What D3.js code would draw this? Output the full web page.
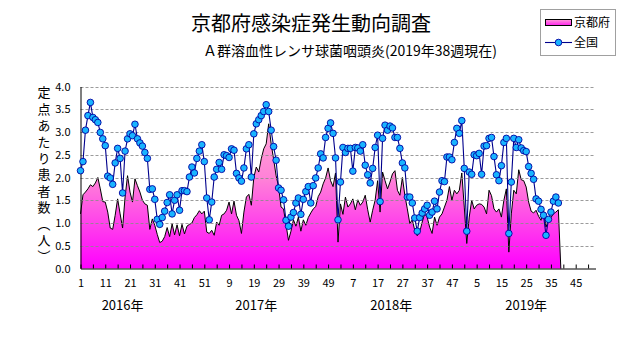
<!DOCTYPE html>
<html><head><meta charset="utf-8">
<script src="https://cdn.jsdelivr.net/npm/d3@7"></script>
<style>
body{margin:0;background:#fff}
svg{display:block}
text{font-family:"Noto Sans CJK JP","Noto Sans",sans-serif;fill:#000}
</style>
</head><body>
<svg id="c" width="631" height="347"></svg>
<script>
// ---- data (weekly values per sentinel site) ----
const kyoto2016 = [1.20,1.62,1.68,1.75,1.84,1.80,1.88,2.00,1.75,1.47,1.46,1.24,0.89,0.86,1.17,1.53,1.20,0.89,1.57,2.04,1.68,1.46,1.97,1.82,1.68,1.50,1.42,1.39,0.86,1.09,0.95,0.75,0.57,0.60,0.70,0.90,0.70,0.98,0.74,0.96,0.72,0.97,0.76,0.93,0.97,1.00,1.12,1.18,1.27,1.20,1.26,0.80];
const kyoto2017 = [0.77,0.84,0.73,1.02,0.95,1.17,1.20,1.28,1.46,1.20,1.48,1.17,1.05,0.77,1.24,1.57,1.63,1.39,2.00,2.23,2.12,2.41,2.63,2.74,3.18,2.74,2.40,2.04,1.80,1.35,1.31,0.97,0.62,0.82,1.07,0.93,1.13,0.82,1.07,0.95,1.12,1.22,1.31,1.36,1.58,1.68,1.86,1.99,2.21,1.93,1.80,2.10];
const kyoto2018 = [0.58,1.42,1.19,1.57,1.35,1.42,1.53,1.29,1.51,1.39,1.46,1.61,1.29,1.02,1.28,1.50,1.93,1.24,2.12,1.93,1.75,1.90,2.08,2.15,1.72,1.61,2.00,1.61,1.31,0.99,1.07,0.84,0.72,0.80,1.02,1.20,1.13,0.91,0.77,1.13,0.95,1.13,1.20,1.35,1.50,1.80,1.50,1.72,1.64,1.72,2.10,1.35];
const kyoto2019 = [0.55,1.13,1.50,1.31,1.39,1.42,1.41,1.35,1.20,1.72,1.60,1.31,1.24,1.31,1.13,1.50,1.75,0.36,1.20,1.72,1.64,2.17,1.95,1.93,1.79,1.46,1.26,1.22,1.28,1.15,1.06,1.29,0.91,1.06,1.12,1.20,1.24,1.29,0];

const zenkoku2016 = [2.15,2.35,3.04,3.36,3.65,3.32,3.27,3.21,2.99,2.85,2.70,2.03,1.99,1.85,2.32,2.64,2.42,1.66,2.58,2.85,2.96,2.92,3.17,2.85,2.76,2.69,2.55,2.42,1.74,1.75,1.52,1.08,0.97,1.12,1.26,1.45,1.62,1.20,1.50,1.62,1.28,1.71,1.71,1.69,2.01,2.23,2.10,2.42,2.58,2.72,2.35,1.55];
const zenkoku2017 = [1.07,1.46,2.01,2.18,2.33,2.18,2.50,2.48,2.44,2.63,2.60,2.09,1.99,1.92,2.21,2.63,2.72,2.01,2.96,3.18,3.27,3.36,3.45,3.60,3.45,3.04,2.68,2.38,1.77,1.72,1.51,1.06,0.93,1.13,1.23,1.44,1.55,1.19,1.52,1.69,1.80,1.44,1.82,1.99,2.21,2.52,2.43,2.88,3.08,3.20,2.97,2.43];
const zenkoku2018 = [1.07,1.90,2.66,2.55,2.64,2.64,2.14,2.66,2.65,2.58,2.72,2.27,2.06,1.88,2.20,2.66,2.93,1.47,2.86,3.15,3.04,3.13,3.09,2.88,2.88,2.64,2.32,2.21,1.57,1.57,1.44,1.11,0.82,1.12,1.22,1.31,1.39,1.17,1.24,1.48,1.31,1.68,1.93,1.91,2.45,2.45,2.39,2.77,3.08,2.97,3.25,2.20];
const zenkoku2019 = [0.82,2.12,2.07,2.50,2.48,2.53,2.07,2.69,2.70,2.86,2.88,2.46,2.06,1.93,2.26,2.77,2.86,0.77,1.90,2.86,2.66,2.83,2.65,2.59,2.57,2.24,2.09,1.96,1.53,1.48,1.30,1.17,0.73,1.08,1.24,1.48,1.57,1.44];

const xTickLabels = ["1","11","21","31","41","51","9","19","29","39","49","7","17","27","37","47","5","15","25","35","45"];
const yTickValues = [0,0.5,1,1.5,2,2.5,3,3.5,4];
const yearLabels = ["2016年","2017年","2018年","2019年"];
const seriesNames = ["京都府","全国"];
const titleText = "京都府感染症発生動向調査";
const subtitleText = "Ａ群溶血性レンサ球菌咽頭炎(2019年38週現在)";
const yTitleText = "定点あたり患者数（人）";

// ---- layout ----
const kyoto = [].concat(kyoto2016, kyoto2017, kyoto2018, kyoto2019);
const zenkoku = [].concat(zenkoku2016, zenkoku2017, zenkoku2018, zenkoku2019);
const yearLabelAt = [17, 71, 125.5, 180]; // week index where each year label is centred

const svg = d3.select("#c");
const x = d3.scaleLinear().domain([0, 208]).range([80.5, 595.5]);
const y = d3.scaleLinear().domain([0, 4]).range([268.5, 86.5]);

const defs = svg.append("defs");
const grad = defs.append("linearGradient").attr("id","pinkgrad")
  .attr("gradientUnits","userSpaceOnUse").attr("x1",0).attr("x2",0)
  .attr("y1", y(3.5)).attr("y2", y(0));
grad.append("stop").attr("offset","0%").attr("stop-color","#ffb2d6");
grad.append("stop").attr("offset","45%").attr("stop-color","#ff7fd8");
grad.append("stop").attr("offset","100%").attr("stop-color","#ff00ff");
const lgrad = defs.append("linearGradient").attr("id","legpink").attr("x1",0).attr("x2",0).attr("y1",0).attr("y2",1);
lgrad.append("stop").attr("offset","0%").attr("stop-color","#ff9ad8");
lgrad.append("stop").attr("offset","100%").attr("stop-color","#ff20f0");

// Kyoto area
const area = d3.area().x((d,i)=>x(i)).y0(y(0)).y1(d=>y(d));
svg.append("path").datum(kyoto).attr("d", area).attr("fill","url(#pinkgrad)");
svg.append("path").datum(kyoto).attr("d", d3.line().x((d,i)=>x(i)).y(d=>y(d)))
  .attr("fill","none").attr("stroke","#000").attr("stroke-width",1);

// gridlines
svg.append("g").selectAll("line").data(yTickValues.filter(v=>v>0)).join("line")
  .attr("x1", x(0)).attr("x2", x(208))
  .attr("y1", d=>Math.round(y(d))+0.5).attr("y2", d=>Math.round(y(d))+0.5)
  .attr("stroke","#8a8a8a").attr("stroke-width",1).attr("stroke-dasharray","3,2")
  .attr("opacity",0.85);

// x axis
const xAxis = d3.axisBottom(x)
  .tickValues(d3.range(0, 206, 5))
  .tickSize(-4).tickSizeOuter(0).tickPadding(11)
  .tickFormat(d => d % 10 === 0 ? xTickLabels[d/10] : "");
const gx = svg.append("g").attr("transform", `translate(0,${y(0)})`).call(xAxis);
gx.select(".domain").attr("stroke","#000");
gx.selectAll(".tick line").attr("stroke","#000");
gx.selectAll("text").attr("font-size",11).attr("font-family",'"Noto Sans CJK JP",sans-serif');

// y axis
const yAxis = d3.axisLeft(y).tickValues(yTickValues).tickSize(0).tickPadding(10)
  .tickFormat(d3.format(".1f"));
const gy = svg.append("g").attr("transform", `translate(${x(0)},0)`).call(yAxis);
gy.select(".domain").attr("stroke","#000");
gy.selectAll("text").attr("font-size",11).attr("font-family",'"Noto Sans CJK JP",sans-serif');

// national line + dots
svg.append("path").datum(zenkoku).attr("d", d3.line().x((d,i)=>x(i)).y(d=>y(d)))
  .attr("fill","none").attr("stroke","#00008c").attr("stroke-width",1.1);
svg.append("g").selectAll("circle").data(zenkoku).join("circle")
  .attr("cx",(d,i)=>x(i)).attr("cy",d=>y(d)).attr("r",3.3)
  .attr("fill","#19b4ff").attr("stroke","#0000a0").attr("stroke-width",0.9);

// year labels
svg.append("g").selectAll("text").data(yearLabels).join("text")
  .attr("x",(d,i)=>x(yearLabelAt[i])).attr("y",310)
  .attr("text-anchor","middle").attr("font-size",13).text(d=>d);

// titles
svg.append("text").attr("x",311).attr("y",31).attr("text-anchor","middle")
  .attr("font-size",20).text(titleText);
svg.append("text").attr("x",350).attr("y",56).attr("text-anchor","middle")
  .attr("font-size",14).text(subtitleText);

// y title (vertical writing)
svg.append("text").attr("x",44).attr("y",86)
  .style("writing-mode","vertical-rl").style("text-orientation","upright")
  .attr("font-size",13).attr("letter-spacing",3.4).text(yTitleText);

// legend
const lg = svg.append("g");
lg.append("rect").attr("x",540.5).attr("y",9.5).attr("width",75).attr("height",46)
  .attr("fill","#fff").attr("stroke","#a0a0a0");
lg.append("rect").attr("x",545.5).attr("y",19.5).attr("width",26).attr("height",6)
  .attr("fill","url(#legpink)").attr("stroke","#000");
lg.append("text").attr("x",574).attr("y",27).attr("font-size",12).text(seriesNames[0]);
lg.append("line").attr("x1",545).attr("x2",572).attr("y1",42.5).attr("y2",42.5)
  .attr("stroke","#00008c").attr("stroke-width",1.1);
lg.append("circle").attr("cx",558.5).attr("cy",42.5).attr("r",3.3)
  .attr("fill","#19b4ff").attr("stroke","#0000a0").attr("stroke-width",0.9);
lg.append("text").attr("x",574).attr("y",47).attr("font-size",12).text(seriesNames[1]);
</script>
</body></html>
